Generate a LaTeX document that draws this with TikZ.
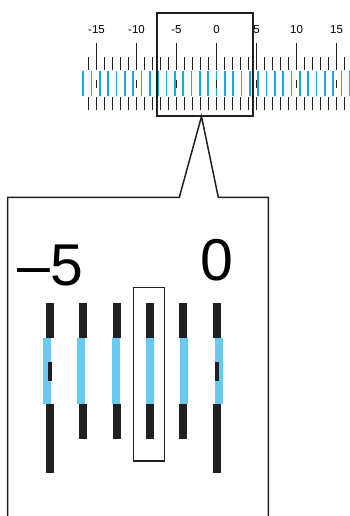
\documentclass[tikz,border=0pt]{standalone}
\usepackage{fontspec}
\setmainfont{Liberation Sans}
\definecolor{barblack}{RGB}{35,31,32}
\definecolor{tickgray}{RGB}{35,31,32}
\definecolor{scalecyan}{RGB}{20,170,228}
\definecolor{barcyan}{RGB}{105,202,240}

\begin{document}
\begin{tikzpicture}[x=1pt,y=-1pt,
  tick/.style={tickgray,line width=1.2pt},
  bluetick/.style={scalecyan,line width=1.6pt},
  bar/.style={fill=barblack},
  bluebar/.style={fill=barcyan},
  frame/.style={draw=barblack,line width=1.5pt},
  toplabel/.style={font=\fontsize{11.5}{12}\selectfont,anchor=base,inner sep=0pt},
  biglabel/.style={font=\fontsize{59}{60}\selectfont,anchor=base,inner sep=0pt}
]
  \useasboundingbox (0,0) rectangle (350,516);

  % Vernier scale
  \foreach \k in {-16,...,16}
    \draw[bluetick] ({216.5+8.33*\k},71) -- ++(0,25);
  \foreach \k in {-16,...,16} {
    \draw[tick] ({216.5+8*\k},57) -- ++(0,13);
    \draw[tick] ({216.5+8*\k},97) -- ++(0,13);
  }
  \foreach \k in {-15,-10,...,15} {
    \draw[tick] ({216.5+8*\k},43) -- ++(0,14);
    \draw[tick] ({216.5+8*\k},80) -- ++(0,8);
    \node[toplabel] (lab\k) at ({216.5+8*\k},33.3) {\k};
  }

  % Zoom window and callout
  \node[frame,line width=2pt,minimum width=96pt,minimum height=103.3pt,inner sep=0pt] (window) at (204.7,64.35) {};
  \coordinate (apex) at (201.5,116.5);
  \draw[frame,line join=miter] (7.7,518) |- (179.3,197.3) -- (apex) -- (218.3,197.3) -| (268.3,518);

  % Magnified bars
  \foreach \k in {-5,...,0} {
    \fill[bar] ({216.7+33.33*\k-4},302.7) rectangle ++(8,35.6);
    \fill[bar] ({216.7+33.33*\k-4},404) rectangle ++(8,35.3);
    \fill[bluebar] ({150+34.3*(\k+2)-4},338.3) rectangle ++(8,65.7);
  }
  \foreach \k in {-5,0} {
    \fill[bar] ({216.7+33.33*\k-4},439) rectangle ++(8,33.7);
    \fill[bar] ({216.7+33.33*\k-2},361.7) rectangle ++(4,19);
  }
  \node[biglabel] (minusfive) at (50.5,285) {–5};
  \node[biglabel] (zero) at (216.7,280.5) {0};
  \node[frame,minimum width=31pt,minimum height=173.7pt,inner sep=0pt] (pick) at (149.2,374.2) {};
\end{tikzpicture}
\end{document}
